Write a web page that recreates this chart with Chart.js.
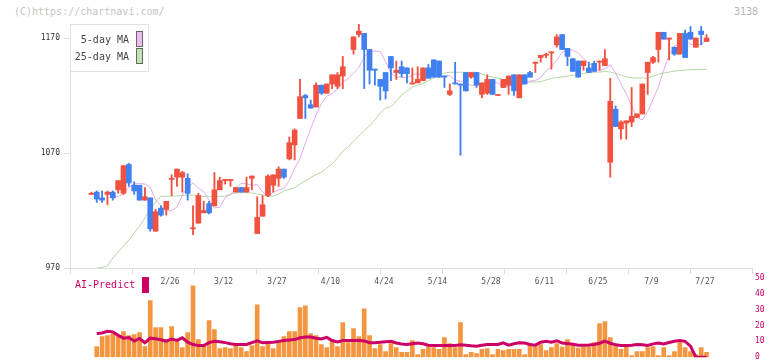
<!DOCTYPE html>
<html>
<head>
<meta charset="utf-8">
<script src="https://cdn.jsdelivr.net/npm/chart.js@4.4.1/dist/chart.umd.min.js"></script>
<style>
  body { margin: 0; background: #fff; }
  #wrap { position: relative; width: 772px; height: 361px; overflow: hidden; background: #fff; font-family: "DejaVu Sans Mono", monospace; }
  #priceBox { position: absolute; left: 0; top: 0; width: 772px; height: 300px; }
  #volBox { position: absolute; left: 0; top: 270px; width: 772px; height: 95px; }
  .copy { position: absolute; left: 14px; top: 6px; font-size: 10px; line-height: 12px; color: #c4c4c4; }
  .code { position: absolute; left: 734px; top: 6px; font-size: 10px; line-height: 12px; color: #b4b4b4; }
  .legend { position: absolute; left: 70px; top: 24px; width: 77px; height: 46px; border: 1px solid #e2e2e2; background: #fff; }
  .lg-text { position: absolute; left: 60px; width: 69px; text-align: right; font-size: 10px; line-height: 12px; color: #444; }
  .lg-box { position: absolute; left: 136px; width: 5px; height: 14px; border: 1px solid #666; }
  .ai-text { position: absolute; left: 75px; top: 279px; font-size: 10px; line-height: 12px; color: #cc0066; }
  .ai-box { position: absolute; left: 142px; top: 277px; width: 7px; height: 16px; background: #cc0066; }
</style>
</head>
<body>
<div id="wrap">
  <div class="copy">(C)https://chartnavi.com/</div>
  <div class="code">3138</div>
  <div id="priceBox"><canvas id="priceChart" width="772" height="300"></canvas></div>
  <div id="volBox"><canvas id="volChart" width="772" height="95"></canvas></div>
  <div class="legend"></div>
  <div class="lg-text" style="top:34px">5-day MA</div>
  <div class="lg-box" style="top:31px;background:#f0bcf0"></div>
  <div class="lg-text" style="top:51px">25-day MA</div>
  <div class="lg-box" style="top:48px;background:#c2e3b4"></div>
  <div class="ai-text">AI-Predict</div>
  <div class="ai-box"></div>
</div>
<script>
const dateLabels = ["2/26", "3/12", "3/27", "4/10", "4/24", "5/14", "5/28", "6/11", "6/25", "7/9", "7/27"];
const priceTicks = [970, 1070, 1170];

const openPrice = [
  1034, 1036, 1031, 1034, 1036, 1038, 1035, 1060, 1042, 1042,
  1029, 1031, 1002, 1022, 1021, 1047, 1049, 1049, 1048, 1004,
  1009, 1018, 1026, 1024, 1038, 1046, 1046, 1036, 1040, 1036,
  1048, 1000, 1015, 1033, 1042, 1048, 1056, 1065, 1077, 1100,
  1120, 1112, 1110, 1129, 1122, 1130, 1128, 1137, null, 1160,
  1173, 1174, 1160, 1143, 1134, 1140, 1154, 1140, 1145, 1144,
  1130, 1131, 1133, 1144, 1151, 1150, 1137, 1121, 1131, 1130,
  1140, 1136, 1140, 1121, 1122, 1134, 1120, 1127, 1129, 1138,
  1118, 1138, 1140, 1148, 1153, 1155, 1157, 1164, 1173, 1161,
  1152, 1150, 1146, 1144, 1148, 1149, 1146, 1062, 1108, 1091,
  1096, 1097, 1101, 1104, 1140, 1149, 1160, 1175, 1169, 1162,
  1156, 1174, 1175, 1162, 1176, 1167
];
const highPrice = [
  1036, 1037, 1037, 1037, 1037, 1046, 1059, 1061, 1045, 1042,
  1040, 1031, 1021, 1024, 1028, 1051, 1056, 1054, 1052, 1024,
  1035, 1028, 1028, 1053, 1049, 1047, 1047, 1040, 1040, 1049,
  1050, 1032, 1033, 1051, 1051, 1058, 1056, 1084, 1091, 1134,
  1121, 1116, 1131, 1129, 1130, 1138, 1140, 1154, null, 1171,
  1182, 1174, 1160, 1143, 1134, 1140, 1154, 1150, 1150, 1144,
  1144, 1145, 1144, 1147, 1151, 1150, 1137, 1130, 1149, 1130,
  1140, 1140, 1140, 1131, 1138, 1134, 1121, 1134, 1137, 1138,
  1138, 1138, 1141, 1149, 1155, 1157, 1158, 1173, 1173, 1161,
  1152, 1150, 1150, 1149, 1150, 1150, 1160, 1135, 1111, 1098,
  1098, 1127, 1104, 1130, 1149, 1154, 1175, 1175, 1170, 1162,
  1174, 1177, 1180, 1170, 1180, 1173
];
const lowPrice = [
  1034, 1027, 1027, 1025, 1029, 1035, 1034, 1041, 1034, 1029,
  1029, 1002, 1002, 1015, 1016, 1033, 1041, 1036, 1029, 999,
  1009, 1018, 1017, 1024, 1038, 1043, 1041, 1036, 1036, 1036,
  1038, 1000, 1015, 1032, 1036, 1041, 1048, 1064, 1064, 1100,
  1100, 1109, 1110, 1121, 1122, 1126, 1126, 1126, null, 1156,
  1171, 1126, 1130, 1129, 1116, 1117, 1133, 1134, 1136, 1131,
  1130, 1131, 1133, 1135, 1136, 1136, 1127, 1120, 1130, 1068,
  1124, 1135, 1127, 1118, 1121, 1121, 1120, 1127, 1121, 1120,
  1118, 1130, 1136, 1140, 1149, 1153, 1143, 1162, 1160, 1146,
  1141, 1136, 1142, 1140, 1141, 1142, 1146, 1049, 1093, 1082,
  1082, 1093, 1101, 1104, 1121, 1148, 1149, 1169, 1151, 1155,
  1156, 1153, 1169, 1162, 1164, 1167
];
const closePrice = [
  1035, 1030, 1029, 1036, 1031, 1046, 1059, 1044, 1037, 1029,
  1032, 1004, 1019, 1016, 1028, 1048, 1056, 1053, 1035, 1005,
  1033, 1020, 1018, 1038, 1046, 1047, 1047, 1040, 1036, 1040,
  1050, 1014, 1025, 1050, 1051, 1056, 1049, 1079, 1090, 1119,
  1118, 1109, 1129, 1122, 1130, 1138, 1138, 1145, null, 1171,
  1176, 1160, 1142, 1142, 1128, 1124, 1144, 1142, 1139, 1139,
  1131, 1134, 1144, 1135, 1136, 1136, 1136, 1124, 1130, 1129,
  1124, 1140, 1129, 1131, 1134, 1121, 1120, 1134, 1137, 1124,
  1138, 1130, 1136, 1149, 1155, 1155, 1158, 1171, 1160, 1154,
  1141, 1136, 1150, 1140, 1141, 1150, 1152, 1115, 1093, 1097,
  1098, 1102, 1104, 1130, 1149, 1153, 1175, 1169, 1170, 1156,
  1174, 1153, 1169, 1170, 1173, 1170
];
const ma5 = [
  null, null, null, null, 1032, 1032.2, 1034.4, 1040.2, 1043.2, 1043.4,
  1043, 1040.2, 1029.2, 1024.2, 1020, 1019.8, 1023, 1033.4, 1040.2, 1044,
  1039.4, 1036.4, 1029.2, 1022.2, 1022.8, 1031, 1033.8, 1039.2, 1043.6, 1043.2,
  1042, 1042.6, 1036, 1033, 1035.8, 1038, 1039.2, 1046.2, 1057, 1065,
  1078.6, 1091, 1103, 1113, 1119.4, 1121.6, 1125.6, 1131.4, 1134.6, 1139.5,
  1144.4, 1153.6, 1158, 1158.8, 1158.2, 1149.6, 1139.2, 1136, 1136, 1135.4,
  1137.6, 1139, 1137, 1137.4, 1136.6, 1136, 1137, 1137.4, 1133.4, 1132.4,
  1131, 1128.6, 1129.4, 1130.4, 1130.6, 1131.6, 1131, 1127, 1128, 1129.2,
  1127.2, 1130.6, 1132.6, 1133, 1135.4, 1141.6, 1145, 1150.6, 1157.6, 1159.8,
  1159.6, 1156.8, 1152.4, 1148.2, 1144.2, 1141.6, 1143.4, 1146.6, 1139.6, 1130.2,
  1121.4, 1111, 1101, 1098.8, 1106.2, 1116.6, 1127.6, 1142.2, 1155.2, 1163.2,
  1164.6, 1168.8, 1164.4, 1164.4, 1164.4, 1167.8
];
const ma25 = [
  null, 970, 970.5, 971.7, 978.7, 983.9, 989.1, 994.3, 1000.4, 1006.5,
  1013.5, 1021.3, 1027.4, 1032.6, 1032.2, 1032.6, 1032.6, 1033, 1033.5, 1033.5,
  1033, 1032.2, 1032, 1032, 1032, 1032.6, 1034.3, 1035.2, 1035.5, 1035.5,
  1035.2, 1034.3, 1033.5, 1032.2, 1032.6, 1034.3, 1037, 1038.3, 1039.6, 1043,
  1045.7, 1048.7, 1051.3, 1053, 1057, 1060.4, 1065.7, 1071.7, 1075.2, 1080.4,
  1084.8, 1089.6, 1093.5, 1098.7, 1104.8, 1109.1, 1110.3, 1115.2, 1120.4, 1123.9,
  1127.4, 1129.1, 1130.6, 1133, 1135.2, 1137.8, 1139.6, 1140.2, 1140.2, 1140.2,
  1140.2, 1140.2, 1140.2, 1138.8, 1137, 1136.1, 1135.2, 1133.9, 1132.6, 1131.7,
  1131.5, 1131.5, 1131.7, 1131.7, 1132, 1133.5, 1134.8, 1135.7, 1136.1, 1137,
  1137.6, 1138.7, 1139.1, 1140, 1140.2, 1140.4, 1140.9, 1140.4, 1139.2, 1137.8,
  1136.1, 1135.5, 1135.2, 1135.2, 1135.2, 1137, 1138.3, 1139.6, 1140.4, 1141.3,
  1141.8, 1142.2, 1142.4, 1142.6, 1142.8, 1142.8
];
const volume = [
  null, 6.7, 13, 13.6, 14.9, 13, 16.2, 13.6, 14.3, 15.5,
  6.7, 35.7, 18.7, 18.7, 11.1, 19.3, 9.9, 6.1, 15.5, 45.1,
  11.1, 7.4, 23.1, 17.4, 5.5, 6.1, 5.5, 7.4, 6.1, 3.6,
  7.4, 33.1, 6.7, 8.6, 5.5, 9.9, 13, 16.2, 16.2, 31.3,
  32.5, 14.9, 13.6, 8, 6.1, 10.5, 6.7, 21.8, 9.2, 18,
  13, 30.6, 13.6, 5.5, 8, 3.6, 8.6, 6.1, 3, 3,
  10.5, 1.7, 4.9, 6.7, 6.1, 4.9, 12.4, 8.6, 6.1, 21.8,
  1.7, 3, 2.3, 4.9, 5.5, 1.7, 4.9, 4.2, 4.9, 4.9,
  4.9, 1.7, 8, 6.7, 8, 4.2, 6.1, 8.6, 6.4, 11.1,
  7.4, 5.8, 6.7, 6.7, 9.2, 21.2, 22.5, 12.4, 6.7, 4.9,
  6.7, 1.1, 3.6, 3.6, 6.1, 6.7, 1.1, 6.1, 1.1, 3.6,
  9.2, 6.1, 3.6, 1.7, 6.1, 3
];
const aiPredict = [
  null, 14.9, 15.3, 16.4, 16, 13.8, 12, 12.4, 10.2, 11.8,
  9.1, 12, 11.6, 11, 10.1, 11.5, 10.6, 12.2, 9.5, 8,
  7.4, 7.4, 9.2, 10, 9.7, 9.2, 8.5, 8, 8, 8,
  9.2, 10.4, 9.2, 9.3, 9.4, 10, 10.5, 10.8, 11.1, 12.3,
  12.8, 12.8, 12, 11.5, 12.5, 10.5, 9.6, 10.5, 10.5, 10.5,
  10.5, 10.3, 9.1, 9.2, 9.4, 9.8, 10, 9, 8.3, 8,
  8.5, 9, 8.5, 7.6, 7.4, 7.4, 7.4, 7.4, 7.4, 7.8,
  7.6, 7.2, 6.9, 7.5, 8, 8, 8, 9.1, 7.6, 8.5,
  9.1, 9, 8, 7.6, 9.5, 10, 9.5, 10.4, 9, 8.6,
  8.2, 7.6, 7.5, 7.7, 8, 8.8, 10.1, 8.8, 7.8, 7.4,
  7.4, 7.6, 8, 7.8, 7.4, 8.4, 9, 8.4, 9.3, 10.1,
  10.5, 10, 7, 0, 0, 0
];

const UP = "#f15240";
const DOWN = "#4080f0";
const FONT = "'DejaVu Sans Mono', monospace";
const X_MIN = -4;
const X_MAX = 123.5;

const days = openPrice.map((o, i) => i).filter(i => openPrice[i] !== null);
const candleColor = days.map(i => (closePrice[i] >= openPrice[i] ? UP : DOWN));
const points = arr => arr.map((v, i) => ({ x: i, y: v })).filter(p => p.y !== null);

new Chart(document.getElementById("priceChart"), {
  type: "bar",
  data: {
    datasets: [
      {
        type: "line",
        label: "25-day MA",
        data: points(ma25),
        borderColor: "#b4d9a4",
        borderWidth: 1,
        pointRadius: 0,
        spanGaps: true,
        order: 3,
      },
      {
        type: "line",
        label: "5-day MA",
        data: points(ma5),
        borderColor: "#e6aae8",
        borderWidth: 1,
        pointRadius: 0,
        spanGaps: true,
        order: 2,
      },
      {
        label: "wick",
        data: days.map(i => ({ x: i, y: [lowPrice[i], highPrice[i]] })),
        backgroundColor: candleColor,
        barThickness: 1.2,
        grouped: false,
        order: 1,
      },
      {
        label: "body",
        data: days.map(i => ({ x: i, y: [Math.min(openPrice[i], closePrice[i]), Math.max(openPrice[i], closePrice[i])] })),
        backgroundColor: candleColor,
        barThickness: 5,
        minBarLength: 1,
        grouped: false,
        order: 0,
      },
    ],
  },
  options: {
    responsive: false,
    animation: false,
    layout: { padding: { top: 24, right: 20, bottom: 4, left: 0 } },
    plugins: { legend: { display: false }, tooltip: { enabled: false } },
    scales: {
      x: {
        type: "linear",
        position: "bottom",
        min: X_MIN,
        max: X_MAX,
        offset: false,
        weight: 0,
        afterBuildTicks: scale => {
          scale.ticks = [];
          for (let k = 0; k <= 11; k++) scale.ticks.push({ value: X_MIN + (k * (X_MAX - X_MIN)) / 11 });
        },
        afterFit: scale => { scale.height = 8; },
        ticks: { display: false },
        grid: { offset: false, drawOnChartArea: false, drawTicks: true, tickLength: 6, color: "#dddddd" },
        border: { display: true, color: "#dddddd" },
      },
      xDates: {
        type: "linear",
        axis: "x",
        position: "bottom",
        min: X_MIN,
        max: X_MAX,
        offset: false,
        weight: 1,
        afterBuildTicks: scale => {
          scale.ticks = dateLabels.map((d, k) => ({ value: 14.7 + k * 10 }));
        },
        afterFit: scale => { scale.height = 20; },
        ticks: {
          autoSkip: false,
          maxRotation: 0,
          padding: 1,
          color: "#555555",
          font: { family: FONT, size: 8 },
          callback: (value, index) => dateLabels[index],
        },
        grid: { display: false, drawTicks: false, tickLength: 0 },
        border: { display: false },
      },
      y: {
        position: "left",
        min: 970,
        max: 1182.2,
        beginAtZero: false,
        afterBuildTicks: scale => {
          scale.ticks = priceTicks.map(v => ({ value: v }));
        },
        afterFit: scale => { scale.width = 70; },
        ticks: {
          padding: 4,
          color: "#333333",
          font: { family: FONT, size: 8 },
          callback: value => String(value),
        },
        grid: { drawOnChartArea: false, drawTicks: true, tickLength: 6, color: "#dddddd" },
        border: { display: true, color: "#dddddd" },
      },
    },
  },
});

new Chart(document.getElementById("volChart"), {
  type: "bar",
  data: {
    datasets: [
      {
        type: "line",
        label: "AI-Predict",
        data: points(aiPredict),
        borderColor: "#cc0066",
        borderWidth: 3,
        pointRadius: 0,
        tension: 0,
        order: 0,
      },
      {
        label: "volume",
        data: points(volume),
        backgroundColor: "#f3963f",
        barThickness: 4,
        grouped: false,
        order: 1,
      },
    ],
  },
  options: {
    responsive: false,
    animation: false,
    layout: { padding: { top: 8, right: 0, bottom: 7.3, left: 70 } },
    plugins: { legend: { display: false }, tooltip: { enabled: false } },
    scales: {
      x: { type: "linear", min: X_MIN, max: X_MAX, offset: false, display: false, grid: { offset: false } },
      y: {
        position: "right",
        min: 0,
        max: 50,
        beginAtZero: true,
        afterFit: scale => { scale.width = 20; },
        ticks: {
          stepSize: 10,
          padding: 3,
          color: "#cc0066",
          font: { family: FONT, size: 8 },
        },
        grid: { display: false, drawTicks: false },
        border: { display: false },
      },
    },
  },
});
</script>
</body>
</html>
